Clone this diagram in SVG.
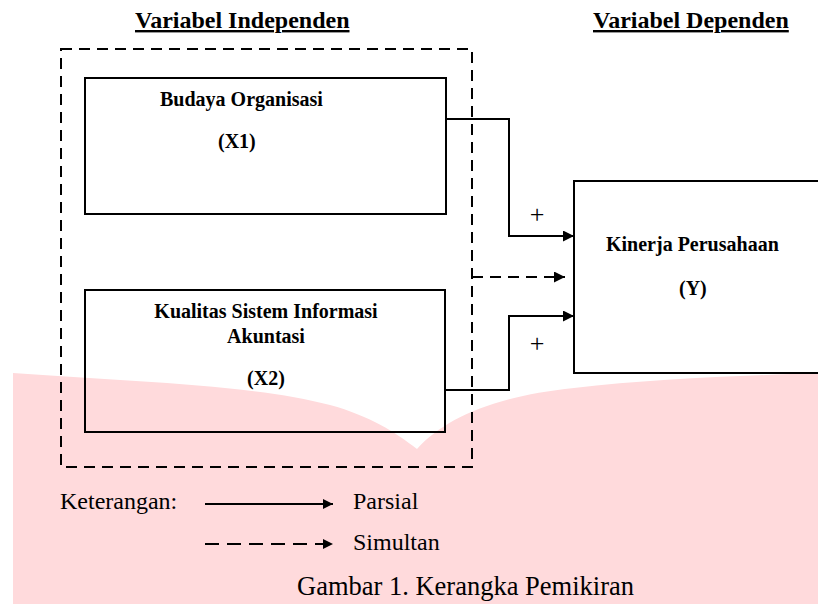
<svg xmlns="http://www.w3.org/2000/svg" width="818" height="604" viewBox="0 0 818 604">
  <style>
    text { font-family: "Liberation Serif", "Times New Roman", serif; fill: #000; }
    .b { font-weight: bold; font-size: 20px; }
    .h { font-weight: bold; font-size: 24px; text-decoration: underline; }
    .n { font-size: 24px; }
    .p { font-size: 26px; }
    .box { fill: none; stroke: #000; stroke-width: 2; }
    .line { fill: none; stroke: #000; stroke-width: 2; }
    .dash { fill: none; stroke: #000; stroke-width: 2; stroke-dasharray: 11 7; }
  </style>
  <defs>
    <marker id="arr" markerUnits="userSpaceOnUse" markerWidth="12" markerHeight="12" refX="11" refY="5.5" orient="auto">
      <path d="M0,0 L11,5.5 L0,11 Z" fill="#000"/>
    </marker>
    <marker id="arrs" markerUnits="userSpaceOnUse" markerWidth="11" markerHeight="11" refX="10" refY="5" orient="auto">
      <path d="M0,0 L10,5 L0,10 Z" fill="#000"/>
    </marker>
  </defs>
  <rect x="0" y="0" width="818" height="604" fill="#fff"/>
  <path id="pink" d="M13,373 C120,381 250,384 330,405 C370,416 395,432 417,449 C445,418 495,396 574,388 C650,379 740,376 818,373 L818,604 L13,604 Z" fill="#FFDADC"/>

  <text class="h" x="135" y="28">Variabel Independen</text>
  <text class="h" x="593" y="28">Variabel Dependen</text>

  <g id="group-independen">
    <rect x="61" y="49" width="411" height="418" class="dash"/>
  </g>

  <g id="node-x1">
    <rect x="85" y="78" width="361" height="136" class="box"/>
    <text class="b" x="160" y="106">Budaya Organisasi</text>
    <text class="b" x="218" y="148">(X1)</text>
  </g>

  <g id="node-x2">
    <rect x="85" y="290" width="360" height="142" class="box"/>
    <text class="b" x="266" y="318" text-anchor="middle">Kualitas Sistem Informasi</text>
    <text class="b" x="266" y="343" text-anchor="middle">Akuntasi</text>
    <text class="b" x="266" y="385" text-anchor="middle">(X2)</text>
  </g>

  <g id="node-y">
    <rect x="574" y="181" width="250" height="192" class="box"/>
    <text class="b" x="606" y="251">Kinerja Perusahaan</text>
    <text class="b" x="679" y="295">(Y)</text>
  </g>

  <g id="connectors">
    <path d="M446,119 H509 V236 H574" class="line" marker-end="url(#arr)"/>
    <path d="M445,390 H509 V316 H574" class="line" marker-end="url(#arr)"/>
    <path d="M472,277 H565" class="dash" marker-end="url(#arr)"/>
    <text class="p" x="537" y="223" text-anchor="middle">+</text>
    <text class="p" x="537" y="352" text-anchor="middle">+</text>
  </g>

  <g id="legend">
    <text class="n" x="60" y="509">Keterangan:</text>
    <path d="M205,504 H333" class="line" marker-end="url(#arrs)"/>
    <text class="n" x="353" y="509">Parsial</text>
    <path d="M205,544 H333" class="line" style="stroke-dasharray:14 8" marker-end="url(#arrs)"/>
    <text class="n" x="353" y="550">Simultan</text>
  </g>

  <text x="297" y="595" style="font-size:26.5px">Gambar 1. Kerangka Pemikiran</text>
</svg>
